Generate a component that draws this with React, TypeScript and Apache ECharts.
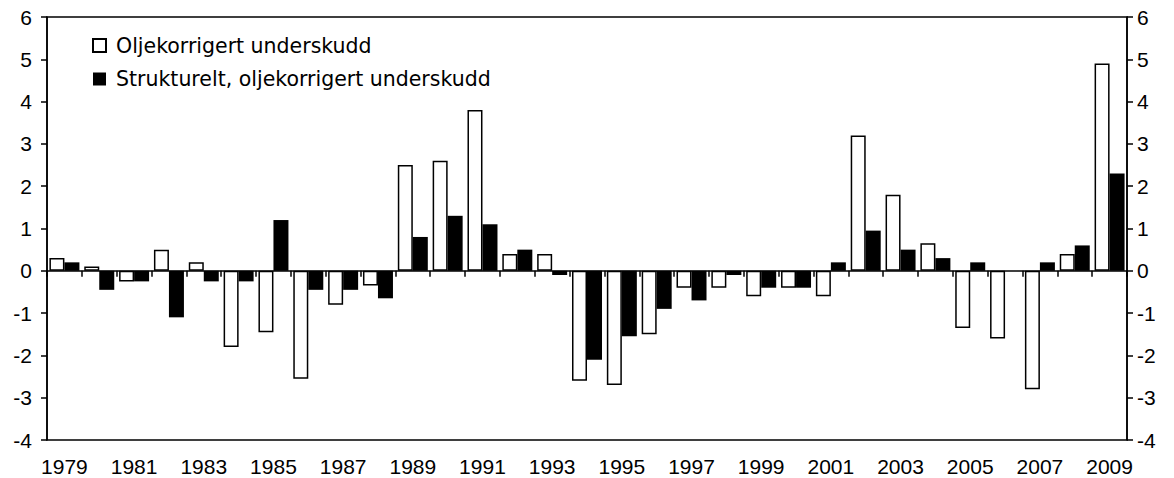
import React, { useEffect, useRef } from "react";
import * as echarts from "echarts";

const years = [
  "1979", "1980", "1981", "1982", "1983", "1984", "1985", "1986", "1987", "1988",
  "1989", "1990", "1991", "1992", "1993", "1994", "1995", "1996", "1997", "1998",
  "1999", "2000", "2001", "2002", "2003", "2004", "2005", "2006", "2007", "2008", "2009",
];

const oljekorrigert = [
  0.3, 0.1, -0.25, 0.5, 0.2, -1.8, -1.45, -2.55, -0.8, -0.35,
  2.5, 2.6, 3.8, 0.4, 0.4, -2.6, -2.7, -1.5, -0.4, -0.4,
  -0.6, -0.4, -0.6, 3.2, 1.8, 0.65, -1.35, -1.6, -2.8, 0.4, 4.9,
];

const strukturelt = [
  0.2, -0.45, -0.25, -1.1, -0.25, -0.25, 1.2, -0.45, -0.45, -0.65,
  0.8, 1.3, 1.1, 0.5, -0.1, -2.1, -1.55, -0.9, -0.7, -0.1,
  -0.4, -0.4, 0.2, 0.95, 0.5, 0.3, 0.2, 0, 0.2, 0.6, 2.3,
];

const seriesNames = ["Oljekorrigert underskudd", "Strukturelt, oljekorrigert underskudd"];

const FONT = "'Liberation Sans', Arial, sans-serif";
const LEGEND_FONT = "'DejaVu Sans', 'Liberation Sans', sans-serif";

export default function App() {
  const ref = useRef<HTMLDivElement>(null);

  useEffect(() => {
    if (!ref.current) return;
    const chart = echarts.init(ref.current, null, { renderer: "svg" });
    const yAxisBase = {
      type: "value",
      min: -4,
      max: 6,
      interval: 1,
      splitLine: { show: false },
      axisLine: { show: true, lineStyle: { color: "#000", width: 1.5 } },
      axisTick: { show: true, length: 6, lineStyle: { color: "#000", width: 1.5 } },
    };
    chart.setOption({
      animation: false,
      backgroundColor: "#fff",
      textStyle: { fontFamily: FONT },
      grid: {
        left: 47,
        right: 47,
        top: 17,
        bottom: 38,
        show: true,
        borderColor: "#000",
        borderWidth: 1.5,
        backgroundColor: "transparent",
      },
      legend: {
        orient: "vertical",
        left: 87,
        top: 30,
        itemWidth: 13,
        itemHeight: 13,
        itemGap: 12.5,
        icon: "rect",
        textStyle: {
          fontFamily: LEGEND_FONT,
          fontSize: 20.5,
          color: "#000",
          padding: [0, 0, 0, 5],
        },
        data: seriesNames,
      },
      xAxis: [
        {
          type: "category",
          data: years,
          position: "bottom",
          axisLine: { show: false, onZero: false },
          axisTick: { show: false },
          axisLabel: {
            interval: 1,
            margin: 16,
            fontFamily: FONT,
            fontSize: 21,
            color: "#000",
          },
        },
        {
          type: "category",
          data: years,
          position: "top",
          z: 5,
          axisLine: {
            show: true,
            onZero: true,
            onZeroAxisIndex: 0,
            lineStyle: { color: "#000", width: 1.5 },
          },
          axisTick: {
            show: true,
            inside: true,
            interval: 0,
            length: 6,
            lineStyle: { color: "#000", width: 1.5 },
          },
          axisLabel: { show: false },
        },
      ],
      yAxis: [
        {
          ...yAxisBase,
          position: "left",
          axisLabel: { margin: 15, fontFamily: FONT, fontSize: 21, color: "#000" },
        },
        {
          ...yAxisBase,
          position: "right",
          axisLabel: { margin: 10, fontFamily: FONT, fontSize: 21, color: "#000" },
        },
      ],
      series: [
        {
          name: seriesNames[0],
          type: "bar",
          xAxisIndex: 0,
          yAxisIndex: 0,
          data: oljekorrigert,
          barWidth: 15,
          barGap: "0%",
          itemStyle: { color: "#fff", borderColor: "#000", borderWidth: 1.5 },
        },
        {
          name: seriesNames[1],
          type: "bar",
          xAxisIndex: 0,
          yAxisIndex: 0,
          data: strukturelt,
          barWidth: 15,
          barGap: "0%",
          itemStyle: { color: "#000" },
        },
      ],
    });
    return () => chart.dispose();
  }, []);

  return (
    <div
      ref={ref}
      style={{ position: "fixed", left: 0, top: 0, width: 1174, height: 478, background: "#fff" }}
    />
  );
}
